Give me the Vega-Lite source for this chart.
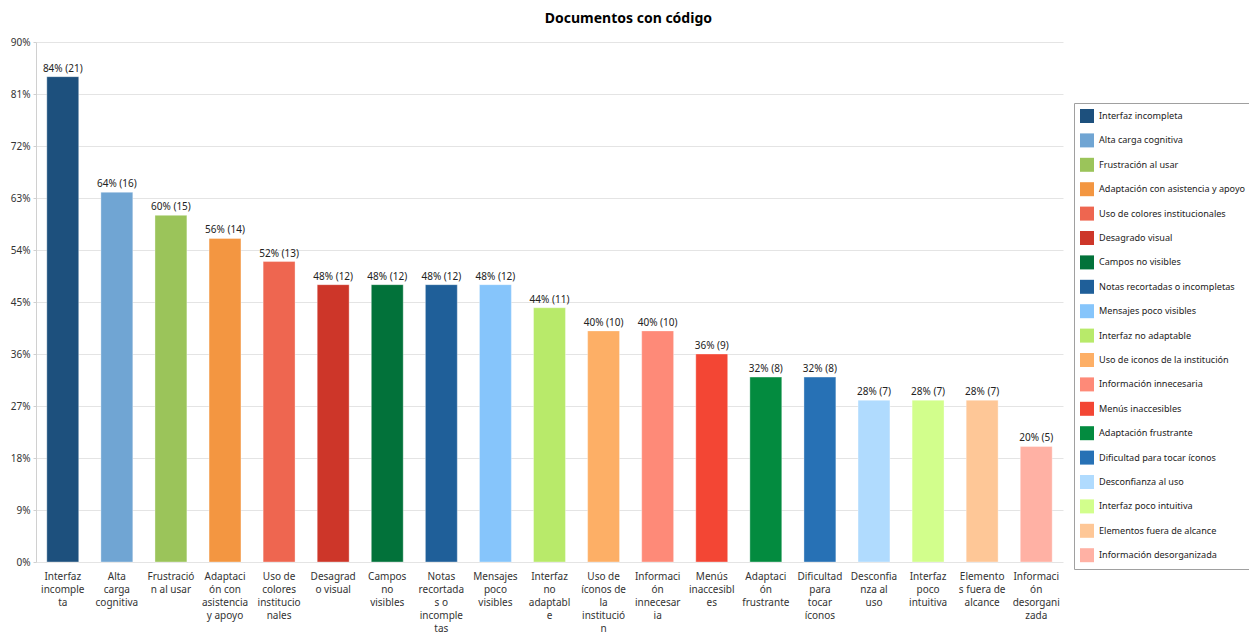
{
  "$schema": "https://vega.github.io/schema/vega-lite/v6.json",
  "autosize": "none",
  "width": 1027,
  "height": 520,
  "padding": {"left": 36, "top": 42, "right": 186, "bottom": 73},
  "background": "white",
  "title": {"text": "Documentos con código", "font": "Noto Sans", "fontSize": 14, "fontWeight": "bold", "color": "#000000", "anchor": "middle", "frame": "bounds", "offset": 11, "dx": -3},
  "config": {
    "font": "Noto Sans",
    "view": {"stroke": null},
    "axis": {"labelFont": "Noto Sans", "labelFontSize": 10, "labelColor": "#333333"},
    "legend": {"labelFont": "Noto Sans", "labelFontSize": 9.1, "labelColor": "#222222"}
  },
  "data": {"values": [
    {"categoria": "Interfaz incompleta", "rotulo": "Interfaz|incomple|ta", "pct": 84, "etiqueta": "84% (21)"},
    {"categoria": "Alta carga cognitiva", "rotulo": "Alta|carga|cognitiva", "pct": 64, "etiqueta": "64% (16)"},
    {"categoria": "Frustración al usar", "rotulo": "Frustració|n al usar", "pct": 60, "etiqueta": "60% (15)"},
    {"categoria": "Adaptación con asistencia y apoyo", "rotulo": "Adaptaci|ón con|asistencia|y apoyo", "pct": 56, "etiqueta": "56% (14)"},
    {"categoria": "Uso de colores institucionales", "rotulo": "Uso de|colores|institucio|nales", "pct": 52, "etiqueta": "52% (13)"},
    {"categoria": "Desagrado visual", "rotulo": "Desagrad|o visual", "pct": 48, "etiqueta": "48% (12)"},
    {"categoria": "Campos no visibles", "rotulo": "Campos|no|visibles", "pct": 48, "etiqueta": "48% (12)"},
    {"categoria": "Notas recortadas o incompletas", "rotulo": "Notas|recortada|s o|incomple|tas", "pct": 48, "etiqueta": "48% (12)"},
    {"categoria": "Mensajes poco visibles", "rotulo": "Mensajes|poco|visibles", "pct": 48, "etiqueta": "48% (12)"},
    {"categoria": "Interfaz no adaptable", "rotulo": "Interfaz|no|adaptabl|e", "pct": 44, "etiqueta": "44% (11)"},
    {"categoria": "Uso de iconos de la institución", "rotulo": "Uso de|íconos de|la|institució|n", "pct": 40, "etiqueta": "40% (10)"},
    {"categoria": "Información innecesaria", "rotulo": "Informaci|ón|innecesar|ia", "pct": 40, "etiqueta": "40% (10)"},
    {"categoria": "Menús inaccesibles", "rotulo": "Menús|inaccesibl|es", "pct": 36, "etiqueta": "36% (9)"},
    {"categoria": "Adaptación frustrante", "rotulo": "Adaptaci|ón|frustrante", "pct": 32, "etiqueta": "32% (8)"},
    {"categoria": "Dificultad para tocar íconos", "rotulo": "Dificultad|para|tocar|íconos", "pct": 32, "etiqueta": "32% (8)"},
    {"categoria": "Desconfianza al uso", "rotulo": "Desconfia|nza al|uso", "pct": 28, "etiqueta": "28% (7)"},
    {"categoria": "Interfaz poco intuitiva", "rotulo": "Interfaz|poco|intuitiva", "pct": 28, "etiqueta": "28% (7)"},
    {"categoria": "Elementos fuera de alcance", "rotulo": "Elemento|s fuera de|alcance", "pct": 28, "etiqueta": "28% (7)"},
    {"categoria": "Información desorganizada", "rotulo": "Informaci|ón|desorgani|zada", "pct": 20, "etiqueta": "20% (5)"}
  ]},
  "encoding": {
    "x": {"field": "rotulo", "type": "nominal", "sort": null,
      "scale": {"paddingInner": 0.41, "paddingOuter": 0.2},
      "axis": {"title": null, "labelAngle": 0, "labelExpr": "split(datum.value, '|')", "labelLineHeight": 13.2, "labelPadding": 9, "ticks": false, "domain": false, "labelBaseline": "top"}},
    "y": {"field": "pct", "type": "quantitative",
      "scale": {"domain": [0, 90], "nice": false},
      "axis": {"title": null, "values": [0, 9, 18, 27, 36, 45, 54, 63, 72, 81, 90], "labelExpr": "datum.value + '%'", "gridColor": "#e4e4e4", "domainColor": "#d0d0d0", "tickSize": 3, "tickColor": "#d0d0d0", "labelPadding": 3}}
  },
  "layer": [
    {"mark": {"type": "bar", "strokeWidth": 1, "strokeOpacity": 0.35, "stroke": "#ffffff"},
     "encoding": {
       "color": {"field": "categoria", "type": "nominal",
         "scale": {"domain": ["Interfaz incompleta", "Alta carga cognitiva", "Frustración al usar", "Adaptación con asistencia y apoyo", "Uso de colores institucionales", "Desagrado visual", "Campos no visibles", "Notas recortadas o incompletas", "Mensajes poco visibles", "Interfaz no adaptable", "Uso de iconos de la institución", "Información innecesaria", "Menús inaccesibles", "Adaptación frustrante", "Dificultad para tocar íconos", "Desconfianza al uso", "Interfaz poco intuitiva", "Elementos fuera de alcance", "Información desorganizada"],
           "range": ["#1d507d", "#70a5d3", "#9bc45a", "#f39641", "#ee6650", "#cd3629", "#02723a", "#1f5f99", "#86c5fb", "#b8ea6a", "#fdaf66", "#fe8a78", "#f34634", "#038b3f", "#2771b5", "#b0dbfe", "#d2fe8c", "#fec797", "#ffb1a4"]},
         "legend": {"title": null, "orient": "none", "legendX": 1038, "legendY": 61, "symbolType": "square", "symbolSize": 196, "symbolStrokeWidth": 0, "rowPadding": 10.4, "padding": 6, "offset": 0, "labelOffset": 5, "strokeColor": "#a0a0a0", "fillColor": "#ffffff", "labelLimit": 200}}
     }},
    {"mark": {"type": "text", "baseline": "bottom", "dy": -3, "fontSize": 10, "color": "#222222"},
     "encoding": {"text": {"field": "etiqueta"}}}
  ]
}
